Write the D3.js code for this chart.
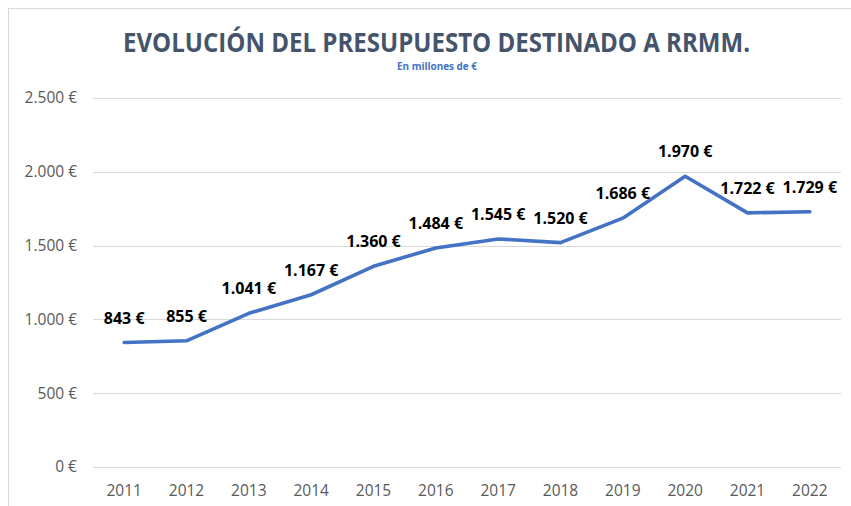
<!DOCTYPE html>
<html><head><meta charset="utf-8">
<script src="https://cdn.jsdelivr.net/npm/d3@7"></script>
<style>body{margin:0;background:#fff}svg{display:block}</style>
</head><body>
<svg id="c" width="851" height="506"></svg>
<script>
const years = ["2011","2012","2013","2014","2015","2016","2017","2018","2019","2020","2021","2022"];
const budget = [843,855,1041,1167,1360,1484,1545,1520,1686,1970,1722,1729];
const yTicks = [0,500,1000,1500,2000,2500];
const titleText = "EVOLUCIÓN DEL PRESUPUESTO DESTINADO A RRMM.";
const subtitleText = "En millones de €";

const loc = d3.formatLocale({decimal:",", thousands:".", grouping:[3], currency:["", " €"]});
const fmt = loc.format("$,.0f");

const svg = d3.select("#c");
const m = {left:93, right:841, top:98, bottom:467};

svg.append("rect").attr("x",8.5).attr("y",8.5).attr("width",860).attr("height",520)
  .attr("fill","#fff").attr("stroke","#d9d9d9").attr("stroke-width",1);

const x = d3.scaleBand().domain(years).range([m.left, m.right]);
const y = d3.scaleLinear().domain([0,2500]).range([m.bottom, m.top]);

// gridlines
svg.append("g").selectAll("line").data(yTicks).join("line")
  .attr("x1",m.left).attr("x2",m.right)
  .attr("y1",d=>Math.round(y(d))+0.5).attr("y2",d=>Math.round(y(d))+0.5)
  .attr("stroke","#d9d9d9").attr("stroke-width",1.2);

// y axis labels
const yAxis = d3.axisLeft(y).tickValues(yTicks).tickFormat(fmt).tickSize(0).tickPadding(16);
const gy = svg.append("g").attr("transform",`translate(${m.left},0)`).call(yAxis);
gy.select(".domain").remove();
gy.selectAll("text").attr("font-family","Open Sans").attr("font-size",15.5).attr("fill","#595959");

// x axis labels
const xAxis = d3.axisBottom(x).tickSize(0).tickPadding(0);
const gx = svg.append("g").attr("transform",`translate(0,${m.bottom})`).call(xAxis);
gx.select(".domain").remove();
gx.selectAll("text").attr("font-family","Open Sans").attr("font-size",15.5).attr("fill","#595959")
  .attr("dy",null).attr("y",29);

// line
const line = d3.line().x((d,i)=>x(years[i])+x.bandwidth()/2).y(d=>y(d));
svg.append("path").datum(budget).attr("d",line)
  .attr("fill","none").attr("stroke","#4472C4").attr("stroke-width",3.6)
  .attr("stroke-linejoin","round").attr("stroke-linecap","round");

// data labels
svg.append("g").selectAll("text").data(budget).join("text")
  .attr("x",(d,i)=>x(years[i])+x.bandwidth()/2)
  .attr("y",d=>y(d)-19)
  .attr("text-anchor","middle")
  .attr("font-family","Open Sans").attr("font-weight","bold").attr("font-size",16)
  .attr("fill","#000")
  .text(d=>fmt(d));

// title
svg.append("text").attr("x",436.5).attr("y",52).attr("text-anchor","middle")
  .attr("font-family","Open Sans").attr("font-weight","bold").attr("font-size",26)
  .attr("fill","#44546A").attr("textLength",627).attr("lengthAdjust","spacingAndGlyphs")
  .text(titleText);
svg.append("text").attr("x",437).attr("y",70).attr("text-anchor","middle")
  .attr("font-family","Open Sans").attr("font-weight","bold").attr("font-size",10)
  .attr("fill","#4472C4").attr("textLength",80).attr("lengthAdjust","spacingAndGlyphs")
  .text(subtitleText);
</script>
</body></html>
